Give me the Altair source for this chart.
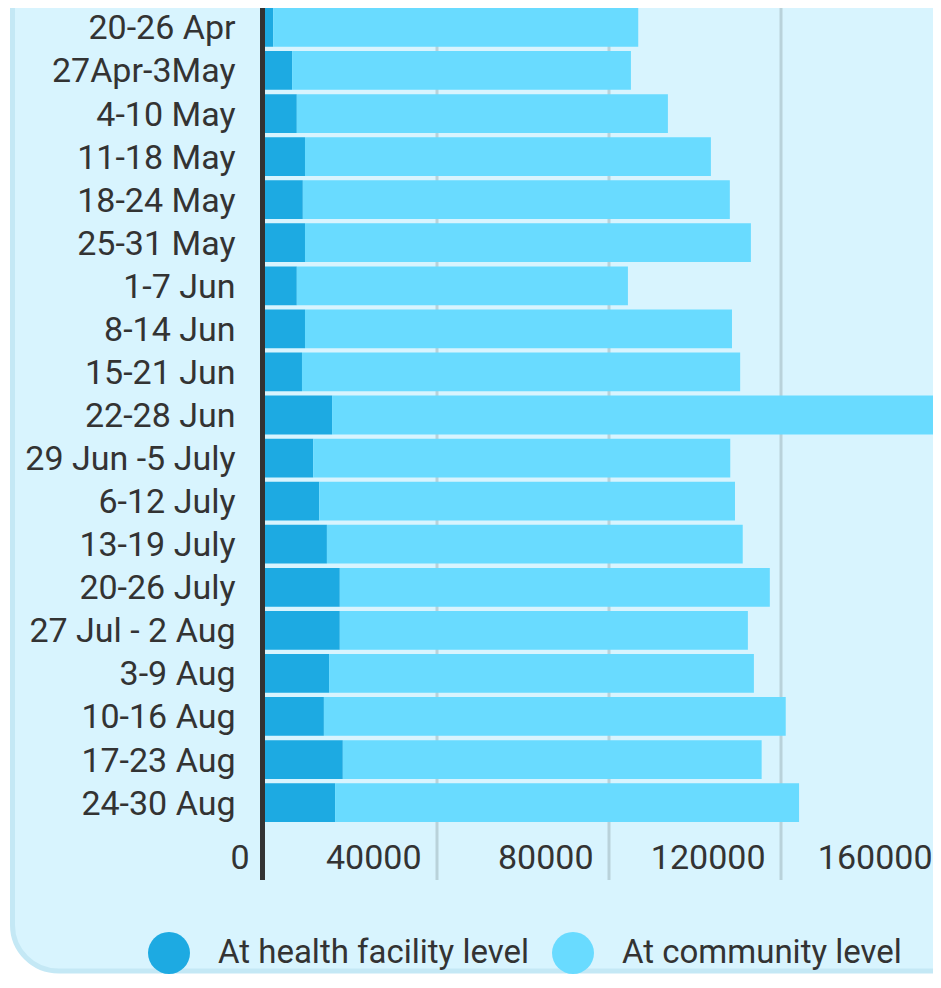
import altair as alt
import pandas as pd

weeks = ["20-26 Apr", "27Apr-3May", "4-10 May", "11-18 May", "18-24 May", "25-31 May",
         "1-7 Jun", "8-14 Jun", "15-21 Jun", "22-28 Jun", "29 Jun -5 July", "6-12 July",
         "13-19 July", "20-26 July", "27 Jul - 2 Aug", "3-9 Aug", "10-16 Aug",
         "17-23 Aug", "24-30 Aug"]
health_facility = [1900, 6300, 7400, 9300, 8800, 9300, 7400, 9300, 8600, 15600,
                   11200, 12600, 14400, 17400, 17400, 14900, 13700, 18100, 16300]
community = [84900, 78800, 86300, 94400, 99300, 103700, 77000, 99300, 101900, 154400,
             97000, 96700, 96700, 100000, 94900, 98800, 107400, 97400, 107900]
series_names = ["At health facility level", "At community level"]
series_colors = ["#1DAAE2", "#69DBFF"]
x_ticks = [0, 40000, 80000, 120000, 160000]
grid_values = [40000, 80000, 120000, 160000]

rows = []
for w, h, c in zip(weeks, health_facility, community):
    rows.append({"week": w, "series": series_names[0], "value": h, "ord": 0})
    rows.append({"week": w, "series": series_names[1], "value": c, "ord": 1})
df = pd.DataFrame(rows)

FONT = "Roboto"
TXT = "#333333"
PAD_L = 257
xscale = alt.Scale(domain=[0, 160000], range=[0, 688], nice=False)

panel = alt.Chart(pd.DataFrame({"a": [0]})).mark_rect(
    fill="#D8F4FE", stroke="#C4E8F5", strokeWidth=5, cornerRadius=46
).encode(
    x=alt.value(4.5 - PAD_L), x2=alt.value(1000), y=alt.value(-60), y2=alt.value(963)
)

grid = alt.Chart(pd.DataFrame({"g": grid_values})).mark_rule(
    color="#B9D2DA", strokeWidth=3
).encode(
    x=alt.X("g:Q", scale=xscale), y=alt.value(0), y2=alt.value(872)
)

bars = alt.Chart(df).mark_bar().encode(
    y=alt.Y("week:N", sort=weeks, title=None,
            scale=alt.Scale(paddingInner=0.1, paddingOuter=0),
            axis=alt.Axis(ticks=False, domain=False, labelFont=FONT, labelFontSize=34,
                          labelColor=TXT, labelPadding=30, labelLimit=0, labelOffset=2,
                          zindex=1)),
    x=alt.X("value:Q", stack="zero", scale=xscale, title=None,
            axis=alt.Axis(values=x_ticks, format="d", grid=False, ticks=False, domain=False,
                          labelFont=FONT, labelFontSize=34, labelColor=TXT,
                          labelAlign="right", labelBaseline="middle",
                          labelOffset=alt.condition("datum.value >= 160000",
                                                    alt.value(-21), alt.value(-16)),
                          labelPadding=36, labelFlush=False, labelOverlap=False,
                          labelBound=False, zindex=1)),
    color=alt.Color("series:N", sort=series_names,
                    scale=alt.Scale(domain=series_names, range=series_colors),
                    legend=alt.Legend(title=None, orient="none", legendX=140 - PAD_L,
                                      legendY=924, direction="horizontal",
                                      symbolType="circle", symbolSize=1764,
                                      symbolStrokeWidth=0, labelFont=FONT,
                                      labelFontSize=33, labelColor=TXT,
                                      labelOffset=28, columnPadding=22, padding=0,
                                      labelLimit=0)),
    order=alt.Order("ord:Q"),
)

zero = alt.Chart(pd.DataFrame({"z": [0]})).mark_rule(
    color="#333333", strokeWidth=5, xOffset=-2.5
).encode(
    x=alt.X("z:Q", scale=xscale), y=alt.value(0), y2=alt.value(872)
)

chart = alt.layer(panel, grid, bars, zero).properties(
    width=668, height=814,
    autosize=alt.AutoSizeParams(type="none"),
    padding={"left": PAD_L, "top": 0, "right": 0, "bottom": 152},
    background="#ffffff",
).configure_view(stroke=None)

chart.save("out.html", embed_options={"renderer": "svg", "actions": False})
